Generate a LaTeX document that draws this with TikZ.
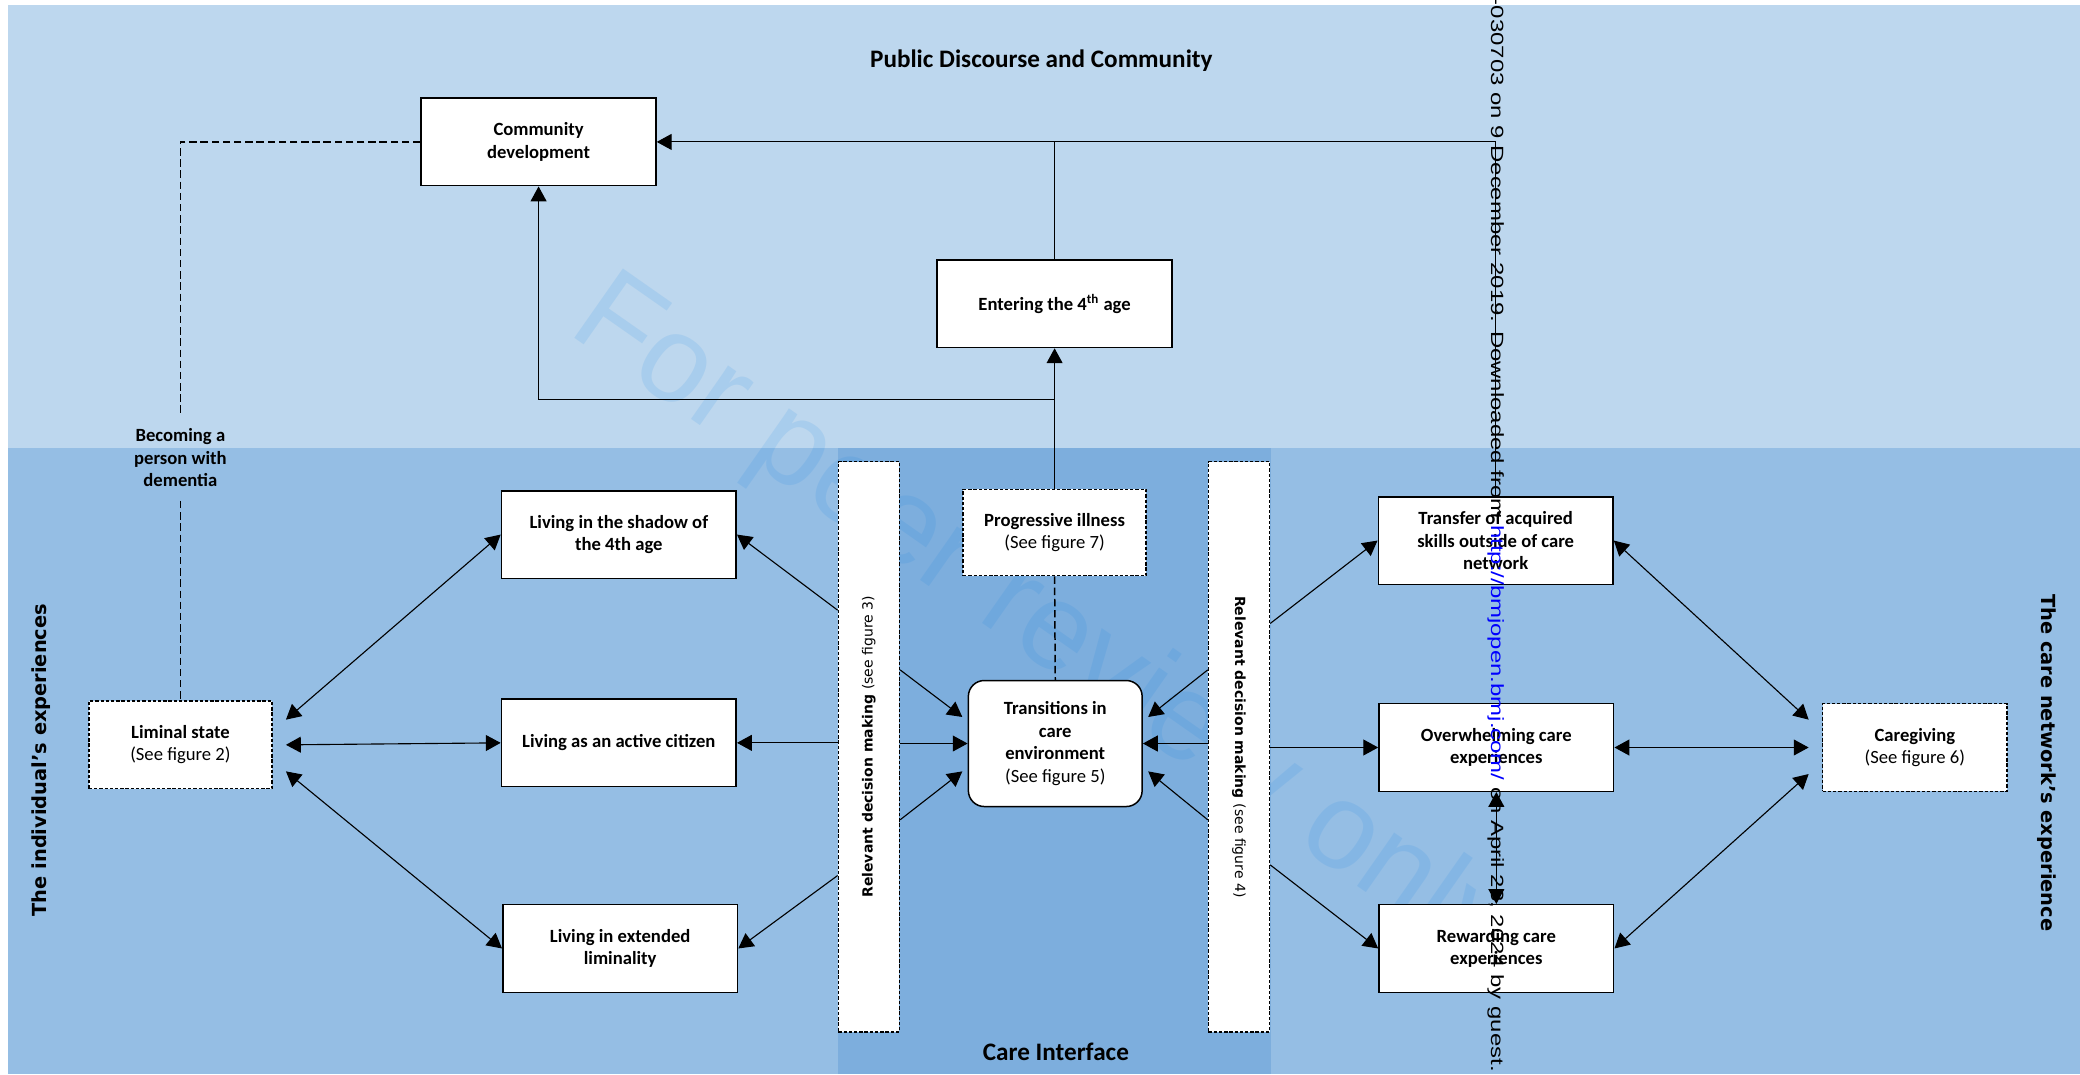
\documentclass[tikz,border=0pt]{standalone}
\usepackage{fontspec}
\usepackage{graphicx}
\setmainfont{Carlito}
\newfontfamily\verdanafont{DejaVu Sans}
\newfontfamily\arialfont{Liberation Sans}
\usetikzlibrary{arrows.meta}
\definecolor{topblue}{HTML}{BDD7EE}
\definecolor{lowblue}{HTML}{95BEE4}
\definecolor{midblue}{HTML}{7DAEDD}
\definecolor{markblue}{RGB}{0,125,230}

\begin{document}
\begin{tikzpicture}[x=0.25mm, y=-0.25mm,
    >={Triangle[length=2.8mm, width=3mm]},
    box/.style={draw=black, fill=white, line width=0.8pt, align=center, inner sep=1pt,
      minimum width=44.25mm, minimum height=16.5mm, font=\bfseries\fontsize{10}{12}\selectfont},
    dbox/.style={box, dash pattern=on 1.8pt off 1pt},
    dline/.style={line width=0.8pt, dash pattern=on 4pt off 2pt},
    head/.style={font=\bfseries\fontsize{13.5}{16}\selectfont},
    side/.style={font=\verdanafont\bfseries\fontsize{10.4}{12}\selectfont},
    every path/.style={line width=0.6pt}
  ]
  \useasboundingbox (0,0) rectangle (1568,810);

  \fill[white] (0,0) rectangle (1568,810);
  \fill[topblue] (6,4) rectangle (1568,338);
  \fill[lowblue] (6,338) rectangle (1568,810);
  \fill[midblue] (632,338) rectangle (958,810);

  \node[text=markblue, opacity=0.11, rotate=-35, font=\arialfont\fontsize{66}{66}\selectfont] (mark) at (785,472) {For peer review only};

  \node[head] (public) at (785,46) {Public Discourse and Community};
  \node[head] (care) at (796,793) {Care Interface};
  \node[side, rotate=90] (individual) at (31,573) {The individual’s experiences};
  \node[side, rotate=-90] (network) at (1543,575) {The care network’s experience};

  \node[box] (community) at (406,107) {Community\\development};
  \node[box] (entering) at (795,229) {Entering the 4\textsuperscript{th} age};
  \node[font=\bfseries\fontsize{10}{12}\selectfont, align=center, inner xsep=1pt, inner ysep=2.6mm] (becoming) at (136,345) {Becoming a\\person with\\dementia};

  \node[dbox, minimum width=34.5mm] (liminal) at (136,561.5) {Liminal state\\{\mdseries (See figure 2)}};
  \node[box] (shadow) at (466.5,403) {Living in the shadow of\\the 4th age};
  \node[box] (active) at (466.5,560) {Living as an active citizen};
  \node[box] (extended) at (467.5,715) {Living in extended\\liminality};

  \node[dbox, minimum width=11.5mm, minimum height=107.5mm] (decleft) at (655,563)
    {\rotatebox{90}{\verdanafont\fontsize{7.5}{9}\selectfont Relevant decision making \mdseries(see figure 3)}};
  \node[dbox, minimum width=34.5mm, minimum height=16.25mm] (illness) at (795,401.5) {Progressive illness\\{\mdseries (See figure 7)}};
  \node[box, rounded corners=3mm, minimum width=32.75mm, minimum height=23.75mm] (transitions) at (795.5,560.5)
    {Transitions in\\care\\environment\\{\mdseries (See figure 5)}};
  \node[dbox, minimum width=11.5mm, minimum height=107.5mm] (decright) at (934,563)
    {\rotatebox{-90}{\verdanafont\fontsize{7.5}{9}\selectfont Relevant decision making \mdseries(see figure 4)}};

  \node[box] (transfer) at (1127.5,407.5) {Transfer of acquired\\skills outside of care\\network};
  \node[box] (overwhelming) at (1128,563.5) {Overwhelming care\\experiences};
  \node[box] (rewarding) at (1128,715) {Rewarding care\\experiences};
  \node[dbox, minimum width=34.75mm] (caregiving) at (1443.5,563.5) {Caregiving\\{\mdseries (See figure 6)}};

  \coordinate (split) at (795,301);
  \draw[->] (illness.north) -- (entering.south);
  \draw[->] (split) -| (community.south);
  \draw (entering.north) -- (entering.north |- community.east);
  \draw[->] (transfer.north) |- (community.east);
  \draw[dline] (community.west) -| (becoming.north);
  \draw[dline] (becoming.south) -- (liminal.north);
  \draw[dline] (illness.south) -- (transitions.north);

  \draw[<->] ([shift={(10,-19)}]liminal.east) -- (shadow.west);
  \draw[<->] ([shift={(10,0)}]liminal.east) -- (active.west);
  \draw[<->] ([shift={(10,20)}]liminal.east) -- (extended.west);
  \draw[->] ([shift={(0,-103)}]decleft.west) -- (shadow.east);
  \draw[->] (decleft.west |- active.east) -- (active.east);
  \draw[->] ([shift={(0,97)}]decleft.west) -- (extended.east);
  \draw[->] ([shift={(0,-58)}]decleft.east) -- ([shift={(-4,-20)}]transitions.west);
  \draw[->] (decleft.east |- transitions.west) -- (transitions.west);
  \draw[->] ([shift={(0,55)}]decleft.east) -- ([shift={(-4,21)}]transitions.west);

  \draw[->] ([shift={(0,-58)}]decright.west) -- ([shift={(4,-20)}]transitions.east);
  \draw[->] (decright.west |- transitions.east) -- (transitions.east);
  \draw[->] ([shift={(0,55)}]decright.west) -- ([shift={(4,21)}]transitions.east);
  \draw[->] ([shift={(0,-93)}]decright.east) -- (transfer.west);
  \draw[->] (decright.east |- overwhelming.west) -- (overwhelming.west);
  \draw[->] ([shift={(0,89)}]decright.east) -- (rewarding.west);
  \draw[<->] (transfer.east) -- ([shift={(-10,-21)}]caregiving.west);
  \draw[<->] (overwhelming.east) -- ([shift={(-10,0)}]caregiving.west);
  \draw[<->] (rewarding.east) -- ([shift={(-10,20)}]caregiving.west);
  \draw[<->] (overwhelming.south) -- (rewarding.north);

  \node[rotate=-90, anchor=west, inner sep=0pt, font=\arialfont\fontsize{9.5}{11}\selectfont] (download) at (1127.5,-2)
    {\scalebox{1.35}[1]{-030703 on 9 December 2019. Downloaded from \textcolor{blue}{http://bmjopen.bmj.com/} on April 23, 2024 by guest.}};
\end{tikzpicture}
\end{document}
